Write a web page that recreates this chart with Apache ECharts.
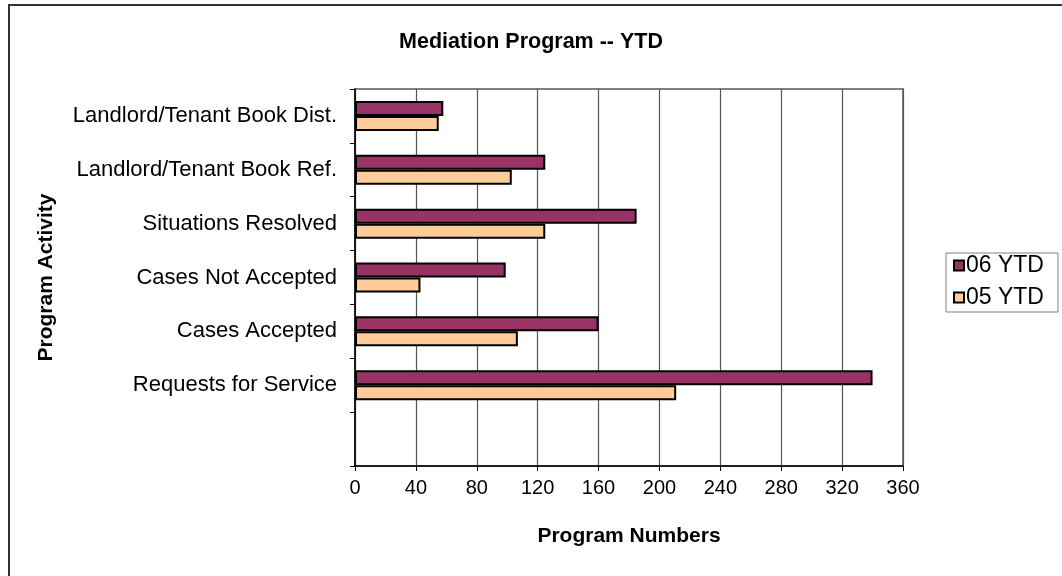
<!DOCTYPE html>
<html>
<head>
<meta charset="utf-8">
<title>Mediation Program -- YTD</title>
<script src="https://cdn.jsdelivr.net/npm/echarts@6/dist/echarts.min.js"></script>
<style>
  html, body { margin: 0; padding: 0; background: #fff; }
  #chart { width: 1062px; height: 576px; }
</style>
</head>
<body>
<div id="chart"></div>
<script>
// categories bottom -> top (first one is the empty slot under the bars)
const categories = ['', 'Requests for Service', 'Cases Accepted', 'Cases Not Accepted',
  'Situations Resolved', 'Landlord/Tenant Book Ref.', 'Landlord/Tenant Book Dist.']
const ytd06 = [null, 340, 160, 99, 185, 125, 58]
const ytd05 = [null, 211, 107, 43, 125, 103, 55]
const xTicks = { min: 0, max: 360, step: 40 }

const font = 'Liberation Sans, Arial, sans-serif'
const chart = echarts.init(document.getElementById('chart'))

const option = {
  animation: false,
  textStyle: { fontFamily: font },
  title: {
    text: 'Mediation Program -- YTD',
    left: 'center',
    top: 26,
    textStyle: { fontSize: 21.5, fontWeight: 'bold', color: '#000', fontFamily: font }
  },
  legend: {
    data: ['06 YTD', '05 YTD'],
    orient: 'vertical',
    left: 946,
    top: 253,
    borderColor: '#808080',
    borderWidth: 1,
    padding: [1, 14, 3, 7],
    itemGap: 9,
    icon: 'rect',
    itemWidth: 10,
    itemHeight: 10,
    textStyle: { fontSize: 23, color: '#000', fontFamily: font, padding: [0, 0, 0, -3] }
  },
  grid: {
    left: 355,
    right: 159,
    top: 89,
    bottom: 110,
    show: true,
    borderColor: '#808080',
    borderWidth: 2
  },
  xAxis: {
    type: 'value',
    min: xTicks.min,
    max: xTicks.max,
    interval: xTicks.step,
    name: 'Program Numbers',
    nameLocation: 'middle',
    nameGap: 60,
    nameTextStyle: { fontSize: 21, fontWeight: 'bold', color: '#000', fontFamily: font },
    axisLine: { show: true, lineStyle: { color: '#000', width: 1.5 } },
    axisTick: { show: true, length: 5, lineStyle: { color: '#000' } },
    axisLabel: { fontSize: 20, color: '#000', margin: 12, fontFamily: font },
    splitLine: { show: true, lineStyle: { color: '#555', width: 1.2 } }
  },
  yAxis: {
    type: 'category',
    data: categories,
    name: 'Program Activity',
    nameLocation: 'middle',
    nameGap: 298,
    nameRotate: 90,
    nameTextStyle: { fontSize: 21, fontWeight: 'bold', color: '#000', fontFamily: font },
    axisLine: { show: true, lineStyle: { color: '#000', width: 1.5 } },
    axisTick: { show: true, length: 5, lineStyle: { color: '#000' } },
    axisLabel: { fontSize: 22, color: '#000', margin: 18, fontFamily: font },
    splitLine: { show: false }
  },
  series: [
    {
      name: '06 YTD',
      type: 'bar',
      data: ytd06,
      barWidth: 15,
      barGap: '0%',
      itemStyle: { color: '#993366', borderColor: '#000', borderWidth: 2 }
    },
    {
      name: '05 YTD',
      type: 'bar',
      data: ytd05,
      barWidth: 15,
      barGap: '0%',
      itemStyle: { color: '#FFCC99', borderColor: '#000', borderWidth: 2 }
    }
  ],
  graphic: [
    {
      type: 'rect',
      silent: true,
      shape: { x: 9, y: 5, width: 1200, height: 800 },
      style: { fill: 'none', stroke: '#333', lineWidth: 2 }
    }
  ]
}

chart.setOption(option)
</script>
</body>
</html>
